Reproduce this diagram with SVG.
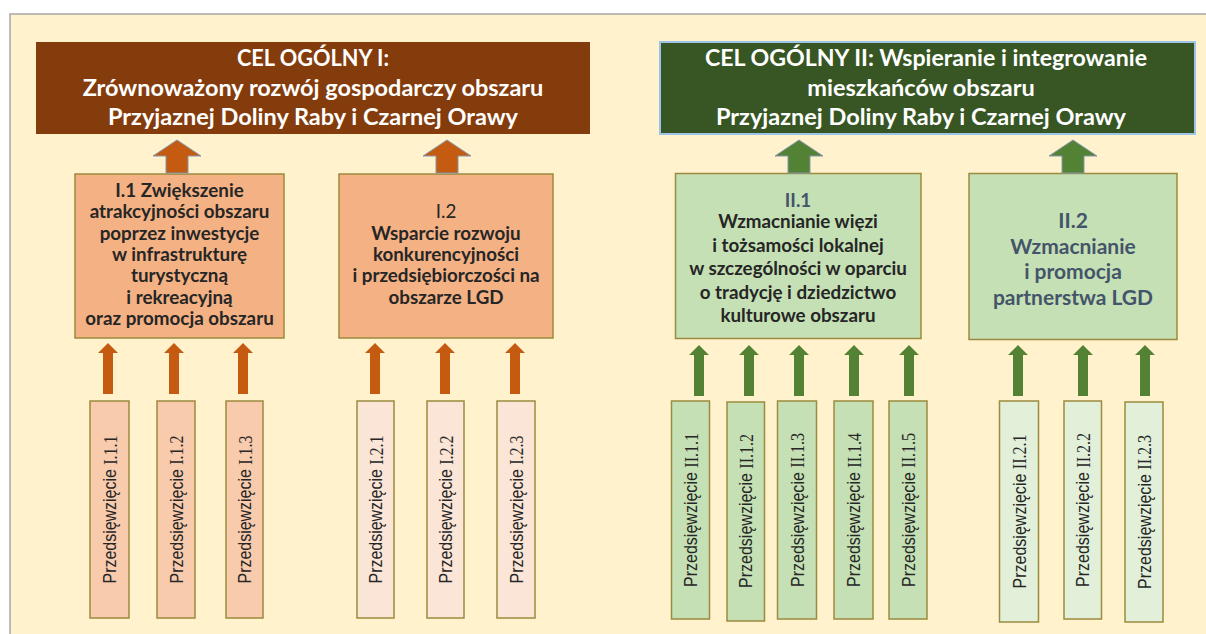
<svg xmlns="http://www.w3.org/2000/svg" width="1206" height="634" viewBox="0 0 1206 634">
<style>
.hdr{font-family:Lato,"Liberation Sans",sans-serif;font-weight:bold;font-size:23.5px;fill:#FFFFFF;text-anchor:middle}
.goal{font-family:Lato,"Liberation Sans",sans-serif;font-weight:bold;font-size:18.8px;fill:#262626;text-anchor:middle}
.big2{font-size:21px}
.blue{fill:#44546A}
.reg{font-weight:normal}
.gbox{stroke:#9C8A3E;stroke-width:1.5}
.pbox{stroke:#9C8A3E;stroke-width:1.5}
.proj{font-family:"Liberation Sans",sans-serif;font-size:19px;fill:#262626;text-anchor:middle}
.num{font-family:"Liberation Serif",serif;font-size:19px}
.ao{fill:#C55A11}
.ag{fill:#548235}
.big{stroke:#8497B0;stroke-width:1}
</style>
<defs>
<path id="bigArrow" d="M0,0 L24,16 L11,16 L11,33 L-11,33 L-11,16 L-24,16 Z"/>
<path id="smArrow" d="M0,0 L10,10 L5,10 L5,51 L-5,51 L-5,10 L-10,10 Z"/>
</defs>
<rect x="10" y="14" width="1210" height="630" fill="#FFF2CC" stroke="#A6A6A6" stroke-width="1.5"/>

<g id="cel1">
<rect x="36" y="42" width="554" height="92" fill="#843C0C"/>
<text class="hdr" x="313" y="66" textLength="152" lengthAdjust="spacingAndGlyphs">CEL OGÓLNY I:</text>
<text class="hdr" x="313" y="96">Zrównoważony rozwój gospodarczy obszaru</text>
<text class="hdr" x="313" y="125">Przyjaznej Doliny Raby i Czarnej Orawy</text>
</g>
<g id="cel2">
<rect x="660" y="42" width="535" height="92" fill="#375623" stroke="#9DC3E6" stroke-width="2"/>
<text class="hdr" x="926" y="66" textLength="442" lengthAdjust="spacingAndGlyphs">CEL OGÓLNY II: Wspieranie i integrowanie</text>
<text class="hdr" x="921" y="96">mieszkańców obszaru</text>
<text class="hdr" x="921" y="125">Przyjaznej Doliny Raby i Czarnej Orawy</text>
</g>

<g id="cel-I1">
<rect class="gbox" x="75" y="174" width="209" height="164" fill="#F4B183"/>
<text class="goal" x="179.5" y="197">I.1 Zwiększenie</text>
<text class="goal" x="179.5" y="218.3">atrakcyjności obszaru</text>
<text class="goal" x="179.5" y="239.6">poprzez inwestycje</text>
<text class="goal" x="179.5" y="260.9">w infrastrukturę</text>
<text class="goal" x="179.5" y="282.2">turystyczną</text>
<text class="goal" x="179.5" y="303.5">i rekreacyjną</text>
<text class="goal" x="179.5" y="324.8">oraz promocja obszaru</text>
</g>
<g id="cel-I2">
<rect class="gbox" x="339" y="174" width="214" height="164" fill="#F4B183"/>
<text class="goal reg" x="446" y="218.3">I.2</text>
<text class="goal" x="446" y="239.6">Wsparcie rozwoju</text>
<text class="goal" x="446" y="260.9">konkurencyjności</text>
<text class="goal" x="446" y="282.2">i przedsiębiorczości na</text>
<text class="goal" x="446" y="303.5">obszarze LGD</text>
</g>
<g id="cel-II1">
<rect class="gbox" x="675.5" y="173.5" width="245.5" height="165" fill="#C5E0B4"/>
<text class="goal blue" x="798" y="206.5">II.1</text>
<text class="goal" x="798" y="228">Wzmacnianie więzi</text>
<text class="goal" x="798" y="252">i tożsamości lokalnej</text>
<text class="goal" x="798" y="274.5">w szczególności w oparciu</text>
<text class="goal" x="798" y="298.5">o tradycję i dziedzictwo</text>
<text class="goal" x="798" y="321.5">kulturowe obszaru</text>
</g>
<g id="cel-II2">
<rect class="gbox" x="969" y="173.5" width="208" height="166" fill="#C5E0B4"/>
<text class="goal blue big2" x="1073" y="228">II.2</text>
<text class="goal blue big2" x="1073" y="254">Wzmacnianie</text>
<text class="goal blue big2" x="1073" y="278.5">i promocja</text>
<text class="goal blue big2" x="1073" y="304.5">partnerstwa LGD</text>
</g>

<g id="p-I11"><rect class="pbox" x="90" y="401" width="39" height="217" fill="#F8CBAD"/><text class="proj" transform="translate(109.5,509.5) rotate(-90)" dominant-baseline="central" textLength="148" lengthAdjust="spacingAndGlyphs">Przedsięwzięcie <tspan class="num">I.1.1</tspan></text></g>
<g id="p-I12"><rect class="pbox" x="157" y="401" width="38" height="217" fill="#F8CBAD"/><text class="proj" transform="translate(176,509.5) rotate(-90)" dominant-baseline="central" textLength="148" lengthAdjust="spacingAndGlyphs">Przedsięwzięcie <tspan class="num">I.1.2</tspan></text></g>
<g id="p-I13"><rect class="pbox" x="226" y="401" width="37" height="217" fill="#F8CBAD"/><text class="proj" transform="translate(244.5,509.5) rotate(-90)" dominant-baseline="central" textLength="148" lengthAdjust="spacingAndGlyphs">Przedsięwzięcie <tspan class="num">I.1.3</tspan></text></g>
<g id="p-I21"><rect class="pbox" x="357" y="401" width="37" height="217" fill="#FBE5D6"/><text class="proj" transform="translate(375.5,509.5) rotate(-90)" dominant-baseline="central" textLength="148" lengthAdjust="spacingAndGlyphs">Przedsięwzięcie <tspan class="num">I.2.1</tspan></text></g>
<g id="p-I22"><rect class="pbox" x="427" y="401" width="37" height="217" fill="#FBE5D6"/><text class="proj" transform="translate(445.5,509.5) rotate(-90)" dominant-baseline="central" textLength="148" lengthAdjust="spacingAndGlyphs">Przedsięwzięcie <tspan class="num">I.2.2</tspan></text></g>
<g id="p-I23"><rect class="pbox" x="497" y="401" width="38" height="217" fill="#FBE5D6"/><text class="proj" transform="translate(516,509.5) rotate(-90)" dominant-baseline="central" textLength="148" lengthAdjust="spacingAndGlyphs">Przedsięwzięcie <tspan class="num">I.2.3</tspan></text></g>

<g id="p-II11"><rect class="pbox" x="671.5" y="401" width="38" height="218" fill="#C5E0B4"/><text class="proj" transform="translate(690.5,510) rotate(-90)" dominant-baseline="central" textLength="154" lengthAdjust="spacingAndGlyphs">Przedsięwzięcie <tspan class="num">II.1.1</tspan></text></g>
<g id="p-II12"><rect class="pbox" x="727" y="402" width="37.5" height="219" fill="#C5E0B4"/><text class="proj" transform="translate(745.7,511) rotate(-90)" dominant-baseline="central" textLength="154" lengthAdjust="spacingAndGlyphs">Przedsięwzięcie <tspan class="num">II.1.2</tspan></text></g>
<g id="p-II13"><rect class="pbox" x="777.5" y="401" width="39" height="218" fill="#C5E0B4"/><text class="proj" transform="translate(797,510) rotate(-90)" dominant-baseline="central" textLength="154" lengthAdjust="spacingAndGlyphs">Przedsięwzięcie <tspan class="num">II.1.3</tspan></text></g>
<g id="p-II14"><rect class="pbox" x="834" y="401" width="39" height="218" fill="#C5E0B4"/><text class="proj" transform="translate(853.5,510) rotate(-90)" dominant-baseline="central" textLength="154" lengthAdjust="spacingAndGlyphs">Przedsięwzięcie <tspan class="num">II.1.4</tspan></text></g>
<g id="p-II15"><rect class="pbox" x="889" y="401" width="38" height="218" fill="#C5E0B4"/><text class="proj" transform="translate(908,510) rotate(-90)" dominant-baseline="central" textLength="154" lengthAdjust="spacingAndGlyphs">Przedsięwzięcie <tspan class="num">II.1.5</tspan></text></g>
<g id="p-II21"><rect class="pbox" x="999.5" y="401" width="39" height="221" fill="#E2F0D9"/><text class="proj" transform="translate(1019,511.5) rotate(-90)" dominant-baseline="central" textLength="154" lengthAdjust="spacingAndGlyphs">Przedsięwzięcie <tspan class="num">II.2.1</tspan></text></g>
<g id="p-II22"><rect class="pbox" x="1064" y="401" width="37.5" height="218" fill="#E2F0D9"/><text class="proj" transform="translate(1082.7,510) rotate(-90)" dominant-baseline="central" textLength="154" lengthAdjust="spacingAndGlyphs">Przedsięwzięcie <tspan class="num">II.2.2</tspan></text></g>
<g id="p-II23"><rect class="pbox" x="1125" y="402" width="38" height="220" fill="#E2F0D9"/><text class="proj" transform="translate(1144,512) rotate(-90)" dominant-baseline="central" textLength="154" lengthAdjust="spacingAndGlyphs">Przedsięwzięcie <tspan class="num">II.2.3</tspan></text></g>

<g id="connectors">
<use href="#bigArrow" class="ao big" x="177" y="140"/>
<use href="#bigArrow" class="ao big" x="447" y="140"/>
<use href="#bigArrow" class="ag big" x="799" y="140"/>
<use href="#bigArrow" class="ag big" x="1073" y="140"/>
<use href="#smArrow" class="ao" x="108" y="343"/>
<use href="#smArrow" class="ao" x="174" y="343"/>
<use href="#smArrow" class="ao" x="243" y="343"/>
<use href="#smArrow" class="ao" x="375" y="343"/>
<use href="#smArrow" class="ao" x="445" y="343"/>
<use href="#smArrow" class="ao" x="515" y="343"/>
<use href="#smArrow" class="ag" x="699" y="345"/>
<use href="#smArrow" class="ag" x="749" y="345"/>
<use href="#smArrow" class="ag" x="799" y="345"/>
<use href="#smArrow" class="ag" x="854" y="345"/>
<use href="#smArrow" class="ag" x="909" y="345"/>
<use href="#smArrow" class="ag" x="1018" y="345"/>
<use href="#smArrow" class="ag" x="1083" y="345"/>
<use href="#smArrow" class="ag" x="1145" y="345"/>
</g>
</svg>
